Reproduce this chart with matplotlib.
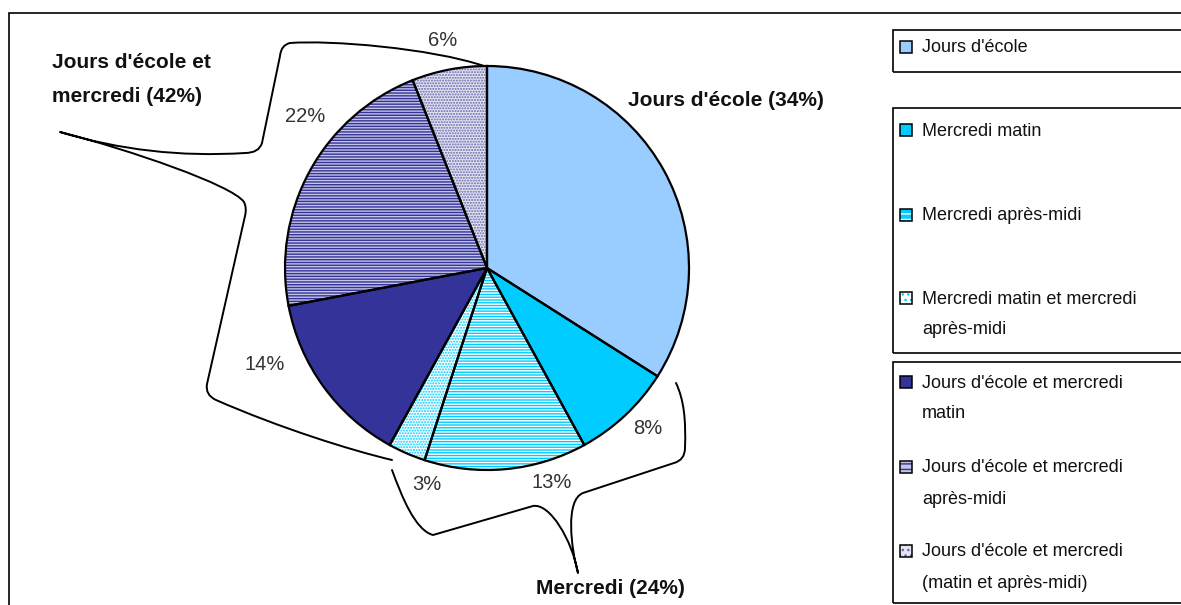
import matplotlib
matplotlib.use("Agg")
import matplotlib.pyplot as plt
from matplotlib.patches import Rectangle, PathPatch, Wedge
from matplotlib.path import Path

plt.rcParams['font.family'] = ['Liberation Sans', 'DejaVu Sans']
plt.rcParams['hatch.linewidth'] = 1.0

#categories of the pie, clockwise from the top
categories = ["Jours d'école",
              "Mercredi matin",
              "Mercredi après-midi",
              "Mercredi matin et mercredi\naprès-midi",
              "Jours d'école et mercredi\nmatin",
              "Jours d'école et mercredi\naprès-midi",
              "Jours d'école et mercredi\n(matin et après-midi)"]
shares = [34, 8, 13, 3, 14, 22, 6]

#groups shown with a brace and a bold label
group_names = ["Jours d'école", "Mercredi", "Jours d'école et\nmercredi"]
group_members = [[0], [1, 2, 3], [4, 5, 6]]

#fill, hatch and hatch colour of each slice
faces = ['#99ccff', '#00ccff', '#00ccff', 'white', '#333399', '#c4c4e6', '#e4e4f2']
hatches = ['', '', '------', '......', '', '------', '......']
hatch_cols = ['#99ccff', '#00ccff', 'white', '#00ccff', '#333399', '#333399', '#6666aa']

W, H = 1181, 605
fig = plt.figure(figsize=(W / 100, H / 100), dpi=100)
ax = fig.add_axes([0, 0, 1, 1])

#everything is placed in pixel units, y measured from the top
def py(y):
    return H - y

cx, cy, rad = 487, py(268), 202
wedges, _, pct_texts = ax.pie(shares, startangle=90, counterclock=False,
                              center=(cx, cy), radius=rad, colors=faces,
                              autopct=lambda p: f'{p:.0f}%', pctdistance=1.15,
                              wedgeprops=dict(linewidth=0),
                              textprops=dict(fontsize=14.5, color='#333333'))
for w, h, hc in zip(wedges, hatches, hatch_cols):
    w.set_hatch(h)
    w.set_edgecolor(hc)
    ax.add_patch(Wedge(w.center, w.r, w.theta1, w.theta2, fill=False,
                       edgecolor='black', linewidth=1.6, zorder=3))

#nudge the percent labels off the braces
pct_pos = [None, (648, 428), (552, 482), (427, 484), (265, 365), (305, 117), (443, 40)]
for t, p in zip(pct_texts, pct_pos):
    if p is None:
        t.set_visible(False)
    else:
        t.set_position((p[0], py(p[1])))

ax.set_xlim(0, W)
ax.set_ylim(0, H)
ax.set_aspect('auto')
ax.axis('off')

#bold group labels
totals = [sum(shares[i] for i in m) for m in group_members]
group_pos = [(628, 100, 'left'), (610, 589, 'center'), (52, 80, 'left')]
for name, tot, (x, y, ha) in zip(group_names, totals, group_pos):
    ax.text(x, py(y), f'{name} ({tot}%)', fontsize=15, fontweight='bold',
            color='#111111', ha=ha, va='center', linespacing=2.0)

#braces tying slices to the group labels
def brace(steps):
    verts, codes = [], []
    for code, pts in steps:
        for p in pts:
            verts.append((p[0], py(p[1])))
            codes.append(code)
    ax.add_patch(PathPatch(Path(verts, codes), fill=False, edgecolor='black',
                           linewidth=1.4, capstyle='round', joinstyle='round'))

M, L, C3, C4 = Path.MOVETO, Path.LINETO, Path.CURVE3, Path.CURVE4
brace([(M, [(484, 66)]),
       (C4, [(430, 48), (330, 40), (290, 43)]),
       (C3, [(281, 45), (280, 56)]),
       (L, [(262, 143)]),
       (C3, [(259, 153), (245, 153)]),
       (C4, [(180, 157), (120, 150), (60, 132)]),
       (C4, [(130, 150), (232, 185), (244, 202)]),
       (C3, [(247, 208), (245, 216)]),
       (L, [(207, 384)]),
       (C3, [(205, 395), (216, 400)]),
       (C4, [(280, 428), (350, 450), (392, 460)])])

brace([(M, [(392, 470)]),
       (C4, [(402, 497), (415, 530), (433, 535)]),
       (L, [(533, 506)]),
       (C4, [(550, 503), (572, 540), (578, 573)]),
       (C4, [(571, 548), (565, 500), (583, 493)]),
       (L, [(674, 463)]),
       (C3, [(685, 460), (685, 448)]),
       (C4, [(686, 420), (684, 400), (676, 383)])])

#outer frame (left and top edges)
ax.plot([9, 9, W + 5], [py(H + 5), py(13), py(13)], color='black', linewidth=1.2,
        solid_joinstyle='miter')

#legend, split into three boxes by group
boxes = [(30, 72), (108, 353), (362, 603)]
for top, bot in boxes:
    ax.add_patch(Rectangle((893, py(bot)), 320, bot - top, fill=False,
                           edgecolor='black', linewidth=1.2, clip_on=False))

leg_rows = [47, 130, 215, 298, 382, 467, 551]
for i, (lab, y) in enumerate(zip(categories, leg_rows)):
    ax.add_patch(Rectangle((900, py(y) - 6), 12, 12, facecolor=faces[i],
                           edgecolor=hatch_cols[i], hatch=hatches[i][:3],
                           linewidth=0))
    ax.add_patch(Rectangle((900, py(y) - 6), 12, 12, fill=False,
                           edgecolor='black', linewidth=1.1))
    for k, line in enumerate(lab.split('\n')):
        ax.text(922, py(y + 31 * k) - 1, line, fontsize=13, color='#111111',
                ha='left', va='center')

fig.savefig('out.png', dpi=100)
